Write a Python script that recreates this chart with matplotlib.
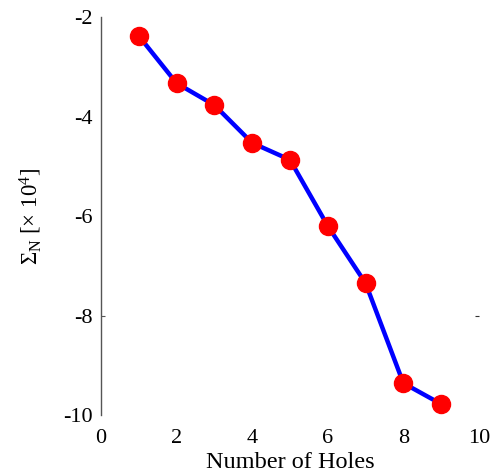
import matplotlib
matplotlib.use("Agg")
import matplotlib.pyplot as plt

# number of holes vs Sigma_N (x 10^4)
holes = [1, 2, 3, 4, 5, 6, 7, 8, 9]
sigma_n = [-2.38, -3.33, -3.77, -4.53, -4.87, -6.20, -7.35, -9.36, -9.78]

xticks = [0, 2, 4, 6, 8, 10]
yticks = [-10, -8, -6, -4, -2]

plt.rcParams['font.family'] = ['Liberation Serif', 'DejaVu Serif']
plt.rcParams['mathtext.fontset'] = 'custom'
plt.rcParams['mathtext.rm'] = 'Liberation Serif'
plt.rcParams['mathtext.it'] = 'Liberation Serif:italic'

fig = plt.figure(figsize=(4.94, 4.74), dpi=100)
ax = fig.add_axes([0.2045, 0.1245, 0.765, 0.8395])

ax.plot(holes, sigma_n, color='#0000ff', lw=3.2, marker='o', ms=13,
        mfc='#ff0000', mec='#ff0000', zorder=3)

ax.set_xlim(0, 10)
ax.set_ylim(-10, -2)
ax.set_xticks(xticks)
ax.set_yticks(yticks)
ax.set_yticklabels([str(t) for t in yticks])

for s in ['top', 'right', 'bottom']:
    ax.spines[s].set_visible(False)
ax.spines['left'].set_color('#555555')
ax.spines['left'].set_linewidth(1.0)

ax.tick_params(axis='x', length=0, labelsize=16, pad=10)
ax.tick_params(axis='y', direction='in', length=3, color='#555555',
               labelsize=16, pad=6)
# only the -8 tick shows on the left axis
for i, t in enumerate(ax.yaxis.get_major_ticks()):
    if yticks[i] != -8:
        t.tick1line.set_visible(False)

# stray tick on right side at -8
sec = ax.secondary_yaxis('right')
sec.set_yticks([-8])
sec.tick_params(direction='in', length=3, color='#333333', labelright=False)
sec.spines['right'].set_visible(False)

ax.set_xlabel('Number of Holes', fontsize=17.5, labelpad=3)
ax.set_ylabel(r'$\Sigma_{\mathrm{N}}$ [$\times$ 10$^4$]', fontsize=16.5, labelpad=14)

fig.savefig('out.png', dpi=100)
